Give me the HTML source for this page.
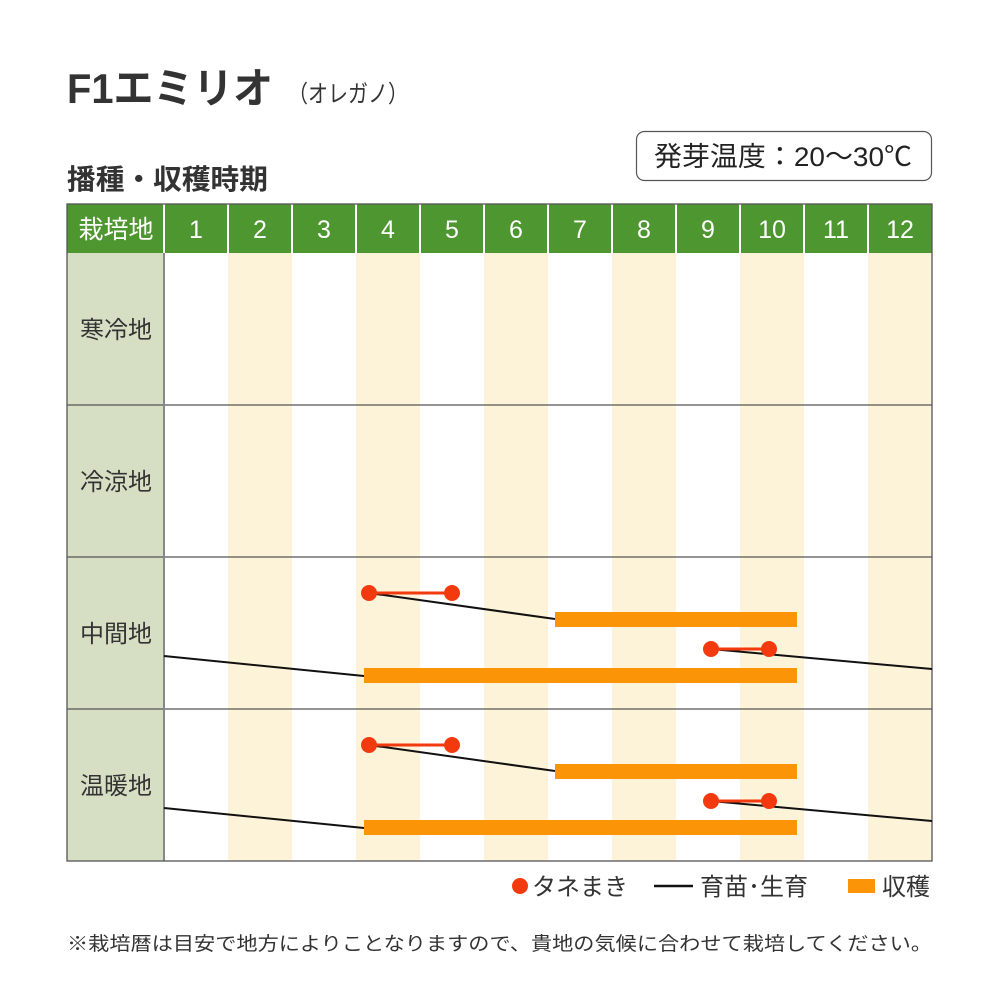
<!DOCTYPE html>
<html><head><meta charset="utf-8"><style>
html,body{margin:0;padding:0;background:#fff;}
svg{display:block;}
text{font-family:"Liberation Sans","Noto Sans CJK JP",sans-serif;}
</style></head><body>
<svg width="1000" height="1000" viewBox="0 0 1000 1000" xmlns="http://www.w3.org/2000/svg">
<rect width="1000" height="1000" fill="#fff"/>
<text x="67" y="103" font-size="42" font-weight="bold" fill="#333" textLength="206" lengthAdjust="spacingAndGlyphs">F1エミリオ</text>
<text x="288" y="102" font-size="24" fill="#333" textLength="120" lengthAdjust="spacingAndGlyphs">（オレガノ）</text>
<text x="67" y="189" font-size="28" font-weight="bold" fill="#333" textLength="201" lengthAdjust="spacingAndGlyphs">播種・収穫時期</text>
<rect x="636.5" y="131.5" width="295" height="49" rx="8" fill="#fff" stroke="#555" stroke-width="1.2"/>
<text x="654" y="166" font-size="27" fill="#222" textLength="258" lengthAdjust="spacingAndGlyphs">発芽温度：20～30℃</text>
<rect x="67" y="253" width="97" height="608" fill="#d6dfc4"/>
<g fill="#fdf3d8">
<rect x="228" y="253" width="64" height="608"/>
<rect x="356" y="253" width="64" height="608"/>
<rect x="484" y="253" width="64" height="608"/>
<rect x="612" y="253" width="64" height="608"/>
<rect x="740" y="253" width="64" height="608"/>
<rect x="868" y="253" width="64" height="608"/>
</g>
<rect x="67" y="204" width="865" height="49" fill="#4e962f"/>
<g stroke="#fff" stroke-width="2">
<line x1="164" y1="204" x2="164" y2="253"/><line x1="228" y1="204" x2="228" y2="253"/>
<line x1="292" y1="204" x2="292" y2="253"/><line x1="356" y1="204" x2="356" y2="253"/>
<line x1="420" y1="204" x2="420" y2="253"/><line x1="484" y1="204" x2="484" y2="253"/>
<line x1="548" y1="204" x2="548" y2="253"/><line x1="612" y1="204" x2="612" y2="253"/>
<line x1="676" y1="204" x2="676" y2="253"/><line x1="740" y1="204" x2="740" y2="253"/>
<line x1="804" y1="204" x2="804" y2="253"/><line x1="868" y1="204" x2="868" y2="253"/>
</g>
<g font-size="25" fill="#fff" text-anchor="middle">
<text x="116" y="238">栽培地</text>
<text x="196" y="238">1</text><text x="260" y="238">2</text><text x="324" y="238">3</text>
<text x="388" y="238">4</text><text x="452" y="238">5</text><text x="516" y="238">6</text>
<text x="580" y="238">7</text><text x="644" y="238">8</text><text x="708" y="238">9</text>
<text x="772" y="238">10</text><text x="836" y="238">11</text><text x="900" y="238">12</text>
</g>
<g stroke="#555" stroke-width="1.3" fill="none">
<line x1="67" y1="405" x2="932" y2="405"/>
<line x1="67" y1="557" x2="932" y2="557"/>
<line x1="67" y1="709" x2="932" y2="709"/>
<line x1="164" y1="253" x2="164" y2="861" stroke="#888" stroke-width="2"/>
<rect x="67" y="204" width="865" height="657"/>
</g>
<g font-size="24" fill="#333" text-anchor="middle">
<text x="116" y="338">寒冷地</text>
<text x="116" y="490">冷涼地</text>
<text x="116" y="642">中間地</text>
<text x="116" y="794">温暖地</text>
</g>
<g id="s">
<line x1="369" y1="593" x2="555" y2="619" stroke="#111" stroke-width="2"/>
<line x1="164" y1="656" x2="364" y2="676" stroke="#111" stroke-width="2"/>
<line x1="711" y1="649" x2="932" y2="669" stroke="#111" stroke-width="2"/>
<rect x="555" y="612" width="242" height="15" fill="#fb9407"/>
<rect x="364" y="668" width="433" height="15" fill="#fb9407"/>
<line x1="369" y1="593" x2="452" y2="593" stroke="#f33a0f" stroke-width="3"/>
<line x1="711" y1="649" x2="769" y2="649" stroke="#f33a0f" stroke-width="3"/>
<circle cx="369" cy="593" r="8" fill="#f33a0f"/><circle cx="452" cy="593" r="8" fill="#f33a0f"/>
<circle cx="711" cy="649" r="8" fill="#f33a0f"/><circle cx="769" cy="649" r="8" fill="#f33a0f"/>
</g>
<use href="#s" transform="translate(0,152)"/>
<circle cx="520" cy="886" r="8" fill="#f33a0f"/>
<text x="532" y="895" font-size="24" fill="#333">タネまき</text>
<line x1="654" y1="886" x2="693" y2="886" stroke="#111" stroke-width="2.5"/>
<text x="700" y="895" font-size="24" fill="#333">育苗･生育</text>
<rect x="848" y="879" width="27" height="14" fill="#fb9407"/>
<text x="882" y="895" font-size="24" fill="#333">収穫</text>
<text x="67" y="950" font-size="19" fill="#333" textLength="865" lengthAdjust="spacingAndGlyphs">※栽培暦は目安で地方によりことなりますので、貴地の気候に合わせて栽培してください。</text>
</svg>
</body></html>
